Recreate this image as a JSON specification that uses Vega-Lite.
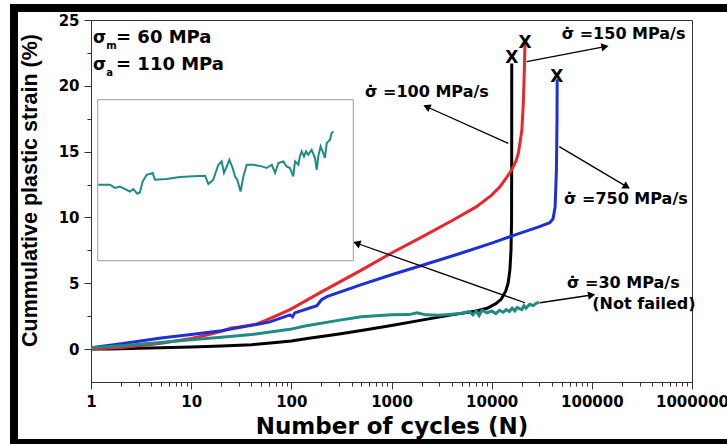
{
  "$schema": "https://vega.github.io/schema/vega-lite/v6.json",
  "width": 601,
  "height": 362,
  "autosize": "none",
  "padding": {"left": 91, "top": 20, "right": 35, "bottom": 62},
  "background": "white",
  "config": {"view": {"stroke": "#333", "strokeWidth": 1}, "font": "DejaVu Sans"},
  "datasets": {
    "curves": [
      {"series": "100 MPa/s", "N": 1, "strain": 0},
      {"series": "100 MPa/s", "N": 1.5, "strain": 0.01},
      {"series": "100 MPa/s", "N": 2, "strain": 0.03},
      {"series": "100 MPa/s", "N": 3, "strain": 0.06},
      {"series": "100 MPa/s", "N": 5, "strain": 0.1},
      {"series": "100 MPa/s", "N": 10, "strain": 0.16},
      {"series": "100 MPa/s", "N": 20, "strain": 0.24},
      {"series": "100 MPa/s", "N": 40, "strain": 0.33},
      {"series": "100 MPa/s", "N": 70, "strain": 0.5},
      {"series": "100 MPa/s", "N": 100, "strain": 0.62},
      {"series": "100 MPa/s", "N": 150, "strain": 0.82},
      {"series": "100 MPa/s", "N": 200, "strain": 0.95},
      {"series": "100 MPa/s", "N": 300, "strain": 1.15},
      {"series": "100 MPa/s", "N": 500, "strain": 1.42},
      {"series": "100 MPa/s", "N": 1000, "strain": 1.8},
      {"series": "100 MPa/s", "N": 2000, "strain": 2.2},
      {"series": "100 MPa/s", "N": 4000, "strain": 2.6},
      {"series": "100 MPa/s", "N": 7000, "strain": 2.9},
      {"series": "100 MPa/s", "N": 9000, "strain": 3.1},
      {"series": "100 MPa/s", "N": 11000, "strain": 3.45},
      {"series": "100 MPa/s", "N": 12500, "strain": 3.8},
      {"series": "100 MPa/s", "N": 13800, "strain": 4.4},
      {"series": "100 MPa/s", "N": 14600, "strain": 5.0},
      {"series": "100 MPa/s", "N": 15200, "strain": 6.0},
      {"series": "100 MPa/s", "N": 15600, "strain": 7.5},
      {"series": "100 MPa/s", "N": 15800, "strain": 9.8},
      {"series": "100 MPa/s", "N": 15850, "strain": 15},
      {"series": "100 MPa/s", "N": 15870, "strain": 21.7},
      {"series": "150 MPa/s", "N": 1, "strain": 0},
      {"series": "150 MPa/s", "N": 2, "strain": 0.12},
      {"series": "150 MPa/s", "N": 3, "strain": 0.25},
      {"series": "150 MPa/s", "N": 5, "strain": 0.45},
      {"series": "150 MPa/s", "N": 10, "strain": 0.8},
      {"series": "150 MPa/s", "N": 15, "strain": 1.1},
      {"series": "150 MPa/s", "N": 20, "strain": 1.35},
      {"series": "150 MPa/s", "N": 25, "strain": 1.6},
      {"series": "150 MPa/s", "N": 30, "strain": 1.68},
      {"series": "150 MPa/s", "N": 45, "strain": 1.9},
      {"series": "150 MPa/s", "N": 60, "strain": 2.3},
      {"series": "150 MPa/s", "N": 97, "strain": 3.0},
      {"series": "150 MPa/s", "N": 200, "strain": 4.35},
      {"series": "150 MPa/s", "N": 500, "strain": 6.0},
      {"series": "150 MPa/s", "N": 1000, "strain": 7.3},
      {"series": "150 MPa/s", "N": 2000, "strain": 8.5},
      {"series": "150 MPa/s", "N": 4000, "strain": 9.75},
      {"series": "150 MPa/s", "N": 7000, "strain": 10.8},
      {"series": "150 MPa/s", "N": 10000, "strain": 11.7},
      {"series": "150 MPa/s", "N": 12000, "strain": 12.3},
      {"series": "150 MPa/s", "N": 14000, "strain": 13.0},
      {"series": "150 MPa/s", "N": 15800, "strain": 13.6},
      {"series": "150 MPa/s", "N": 17500, "strain": 14.3},
      {"series": "150 MPa/s", "N": 18500, "strain": 14.9},
      {"series": "150 MPa/s", "N": 20000, "strain": 16.6},
      {"series": "150 MPa/s", "N": 20700, "strain": 18.7},
      {"series": "150 MPa/s", "N": 21200, "strain": 21.2},
      {"series": "150 MPa/s", "N": 21500, "strain": 23.2},
      {"series": "750 MPa/s", "N": 1, "strain": 0.1},
      {"series": "750 MPa/s", "N": 2, "strain": 0.4},
      {"series": "750 MPa/s", "N": 3, "strain": 0.6},
      {"series": "750 MPa/s", "N": 5, "strain": 0.85},
      {"series": "750 MPa/s", "N": 10, "strain": 1.1},
      {"series": "750 MPa/s", "N": 20, "strain": 1.4},
      {"series": "750 MPa/s", "N": 40, "strain": 1.8},
      {"series": "750 MPa/s", "N": 60, "strain": 2.05},
      {"series": "750 MPa/s", "N": 97, "strain": 2.6},
      {"series": "750 MPa/s", "N": 103, "strain": 2.45},
      {"series": "750 MPa/s", "N": 108, "strain": 2.75},
      {"series": "750 MPa/s", "N": 150, "strain": 3.1},
      {"series": "750 MPa/s", "N": 180, "strain": 3.3},
      {"series": "750 MPa/s", "N": 200, "strain": 3.75},
      {"series": "750 MPa/s", "N": 230, "strain": 4.0},
      {"series": "750 MPa/s", "N": 500, "strain": 4.9},
      {"series": "750 MPa/s", "N": 1000, "strain": 5.65},
      {"series": "750 MPa/s", "N": 2000, "strain": 6.35},
      {"series": "750 MPa/s", "N": 5000, "strain": 7.3},
      {"series": "750 MPa/s", "N": 10000, "strain": 8.05},
      {"series": "750 MPa/s", "N": 16000, "strain": 8.6},
      {"series": "750 MPa/s", "N": 30000, "strain": 9.3},
      {"series": "750 MPa/s", "N": 38000, "strain": 9.6},
      {"series": "750 MPa/s", "N": 41000, "strain": 9.9},
      {"series": "750 MPa/s", "N": 43000, "strain": 10.8},
      {"series": "750 MPa/s", "N": 44300, "strain": 13.6},
      {"series": "750 MPa/s", "N": 44900, "strain": 17.4},
      {"series": "750 MPa/s", "N": 45100, "strain": 20.5},
      {"series": "30 MPa/s", "N": 1, "strain": 0.1},
      {"series": "30 MPa/s", "N": 2, "strain": 0.25},
      {"series": "30 MPa/s", "N": 5, "strain": 0.5},
      {"series": "30 MPa/s", "N": 8.7, "strain": 0.68},
      {"series": "30 MPa/s", "N": 20, "strain": 0.9},
      {"series": "30 MPa/s", "N": 40, "strain": 1.1},
      {"series": "30 MPa/s", "N": 97, "strain": 1.5},
      {"series": "30 MPa/s", "N": 137, "strain": 1.75},
      {"series": "30 MPa/s", "N": 305, "strain": 2.2},
      {"series": "30 MPa/s", "N": 500, "strain": 2.45},
      {"series": "30 MPa/s", "N": 1000, "strain": 2.6},
      {"series": "30 MPa/s", "N": 1500, "strain": 2.62},
      {"series": "30 MPa/s", "N": 1800, "strain": 2.75},
      {"series": "30 MPa/s", "N": 2200, "strain": 2.6},
      {"series": "30 MPa/s", "N": 3000, "strain": 2.58},
      {"series": "30 MPa/s", "N": 4000, "strain": 2.65},
      {"series": "30 MPa/s", "N": 5000, "strain": 2.72},
      {"series": "30 MPa/s", "N": 6000, "strain": 2.85},
      {"series": "30 MPa/s", "N": 6500, "strain": 2.6},
      {"series": "30 MPa/s", "N": 7000, "strain": 2.9},
      {"series": "30 MPa/s", "N": 7500, "strain": 2.55},
      {"series": "30 MPa/s", "N": 8000, "strain": 2.95},
      {"series": "30 MPa/s", "N": 9000, "strain": 2.75},
      {"series": "30 MPa/s", "N": 10000, "strain": 2.9},
      {"series": "30 MPa/s", "N": 11000, "strain": 2.7},
      {"series": "30 MPa/s", "N": 12000, "strain": 2.95},
      {"series": "30 MPa/s", "N": 13000, "strain": 2.8},
      {"series": "30 MPa/s", "N": 14000, "strain": 3.0},
      {"series": "30 MPa/s", "N": 15000, "strain": 2.85},
      {"series": "30 MPa/s", "N": 16000, "strain": 3.1},
      {"series": "30 MPa/s", "N": 17000, "strain": 2.9},
      {"series": "30 MPa/s", "N": 18000, "strain": 3.15},
      {"series": "30 MPa/s", "N": 20000, "strain": 3.0},
      {"series": "30 MPa/s", "N": 21000, "strain": 3.3},
      {"series": "30 MPa/s", "N": 22000, "strain": 3.1},
      {"series": "30 MPa/s", "N": 24000, "strain": 3.4},
      {"series": "30 MPa/s", "N": 26000, "strain": 3.3},
      {"series": "30 MPa/s", "N": 28000, "strain": 3.5},
      {"series": "30 MPa/s", "N": 30000, "strain": 3.55}
    ],
    "rates": [
      {"N": 50000, "strain": 23.53, "label": "\u03c3\u0307 =150 MPa/s"},
      {"N": 544, "strain": 19.15, "label": "\u03c3\u0307 =100 MPa/s"},
      {"N": 52700, "strain": 11.02, "label": "\u03c3\u0307 =750 MPa/s"},
      {"N": 56500, "strain": 4.66, "label": "\u03c3\u0307 =30 MPa/s"},
      {"N": 101100, "strain": 3.05, "label": "(Not failed)"}
    ],
    "params": [
      {"N": 1.777, "strain": 23.28, "label": "= 60 MPa"},
      {"N": 1.777, "strain": 21.2, "label": "= 110 MPa"}
    ],
    "sigmas": [
      {"N": 1.047, "strain": 23.28, "label": "\u03c3"},
      {"N": 1.047, "strain": 21.2, "label": "\u03c3"}
    ],
    "subs": [
      {"N": 1.42, "strain": 22.8, "label": "m"},
      {"N": 1.42, "strain": 20.75, "label": "a"}
    ],
    "fails": [
      {"N": 15850, "strain": 22.09, "label": "X"},
      {"N": 21520, "strain": 23.23, "label": "X"},
      {"N": 44570, "strain": 20.69, "label": "X"}
    ],
    "arrows": [
      {"N": 22380, "strain": 21.83, "N2": 135300, "strain2": 22.97, "dir": -10.8},
      {"N": 14650, "strain": 15.63, "N2": 2245, "strain2": 18.41, "dir": -155.8},
      {"N": 47300, "strain": 15.38, "N2": 222800, "strain2": 12.34, "dir": 30.7},
      {"N": 30350, "strain": 3.52, "N2": 99600, "strain2": 4.11, "dir": -8.5},
      {"N": 21520, "strain": 3.52, "N2": 449.5, "strain2": 8.04, "dir": -160.6}
    ],
    "frame": [
      {"N": 0.1703, "N2": 3010000, "strain": 25.91, "strain2": -7.13}
    ],
    "insetbox": [
      {"ix": 0, "ix2": 100, "iy": 0, "iy2": 100}
    ],
    "inset": [
      {"ix": 0.2, "iy": 47.2}, {"ix": 4.8, "iy": 47.2}, {"ix": 6.8, "iy": 45.2}, {"ix": 8.7, "iy": 46.1},
      {"ix": 10.7, "iy": 44.5}, {"ix": 12.6, "iy": 43.0}, {"ix": 13.9, "iy": 44.5}, {"ix": 15.5, "iy": 41.6},
      {"ix": 16.5, "iy": 42.4}, {"ix": 17.6, "iy": 49.3}, {"ix": 19.2, "iy": 53.4}, {"ix": 21.5, "iy": 54.5},
      {"ix": 22.4, "iy": 50.3}, {"ix": 27.0, "iy": 50.7}, {"ix": 32.2, "iy": 52.0}, {"ix": 37.4, "iy": 52.4},
      {"ix": 42.0, "iy": 52.8}, {"ix": 43.3, "iy": 47.6}, {"ix": 45.2, "iy": 50.3}, {"ix": 47.2, "iy": 59.6},
      {"ix": 48.5, "iy": 61.7}, {"ix": 49.4, "iy": 54.5}, {"ix": 50.5, "iy": 58.6}, {"ix": 51.5, "iy": 62.7},
      {"ix": 52.8, "iy": 57.6}, {"ix": 53.7, "iy": 52.4}, {"ix": 54.6, "iy": 50.3}, {"ix": 55.9, "iy": 43.0},
      {"ix": 57.0, "iy": 52.4}, {"ix": 58.3, "iy": 59.6}, {"ix": 60.9, "iy": 59.6}, {"ix": 64.2, "iy": 58.6},
      {"ix": 66.1, "iy": 57.6}, {"ix": 68.1, "iy": 59.6}, {"ix": 69.4, "iy": 54.5}, {"ix": 70.7, "iy": 60.7},
      {"ix": 72.6, "iy": 61.7}, {"ix": 73.9, "iy": 58.6}, {"ix": 75.2, "iy": 57.6}, {"ix": 76.5, "iy": 52.4},
      {"ix": 77.2, "iy": 61.7}, {"ix": 78.5, "iy": 59.6}, {"ix": 79.1, "iy": 64.8}, {"ix": 79.8, "iy": 67.9},
      {"ix": 80.7, "iy": 64.8}, {"ix": 81.5, "iy": 67.9}, {"ix": 82.4, "iy": 65.8}, {"ix": 83.7, "iy": 68.9},
      {"ix": 85.0, "iy": 63.8}, {"ix": 85.7, "iy": 56.5}, {"ix": 86.3, "iy": 64.8}, {"ix": 87.2, "iy": 71.0},
      {"ix": 88.0, "iy": 67.9}, {"ix": 88.9, "iy": 63.8}, {"ix": 89.6, "iy": 73.1}, {"ix": 90.9, "iy": 75.2},
      {"ix": 91.5, "iy": 79.3}, {"ix": 92.2, "iy": 80.3}
    ]
  },
  "layer": [
    {
      "encoding": {
        "x": {
          "field": "N", "type": "quantitative",
          "scale": {"type": "log", "domain": [1, 1000000], "nice": false},
          "axis": {
            "title": "Number of cycles (N)",
            "values": [1,2,3,4,5,6,7,8,9,10,20,30,40,50,60,70,80,90,100,200,300,400,500,600,700,800,900,1000,2000,3000,4000,5000,6000,7000,8000,9000,10000,20000,30000,40000,50000,60000,70000,80000,90000,100000,200000,300000,400000,500000,600000,700000,800000,900000,1000000],
            "labelExpr": "indexof([1,10,100,1000,10000,100000,1000000], datum.value) >= 0 ? format(datum.value, 'd') : ''",
            "tickSize": {"condition": {"test": "indexof([1,10,100,1000,10000,100000,1000000], datum.value) >= 0", "value": 7}, "value": 4},
            "grid": false, "labelOverlap": false, "labelFlush": false,
            "labelFont": "DejaVu Sans", "labelFontWeight": "bold", "labelFontSize": 15, "labelColor": "black", "labelPadding": 5,
            "titleFont": "DejaVu Sans", "titleFontWeight": "bold", "titleFontSize": 23, "titleColor": "black", "titlePadding": 6,
            "domainColor": "#333", "tickColor": "#333"
          }
        },
        "y": {
          "field": "strain", "type": "quantitative",
          "scale": {"domain": [-2.5, 25], "nice": false, "zero": false},
          "axis": {
            "title": "Cummulative plastic strain (%)",
            "values": [0, 2.5, 5, 7.5, 10, 12.5, 15, 17.5, 20, 22.5, 25],
            "labelExpr": "datum.value % 5 == 0 ? datum.label : ''",
            "tickSize": {"condition": {"test": "datum.value % 5 == 0", "value": 7}, "value": 4},
            "grid": false, "labelOverlap": false, "labelFlush": false,
            "labelFont": "DejaVu Sans", "labelFontWeight": "bold", "labelFontSize": 15, "labelColor": "black", "labelPadding": 5,
            "titleFont": "Liberation Sans", "titleFontWeight": "bold", "titleFontSize": 21.5, "titleColor": "black", "titlePadding": 17, "titleY": 170,
            "domainColor": "#333", "tickColor": "#333"
          }
        }
      },
      "layer": [
        {
          "data": {"name": "frame"},
          "mark": {"type": "rect", "fillOpacity": 0, "fill": "white", "stroke": "black", "strokeWidth": 8, "clip": false},
          "encoding": {"x2": {"field": "N2"}, "y2": {"field": "strain2"}}
        },
        {
          "data": {"name": "curves"},
          "mark": {"type": "line", "strokeWidth": 3, "clip": true},
          "encoding": {
            "color": {"field": "series", "type": "nominal", "legend": null,
              "scale": {"domain": ["30 MPa/s", "750 MPa/s", "150 MPa/s", "100 MPa/s"], "range": ["#1e8c84", "#1f2fd6", "#e8262c", "#000000"]}}
          }
        },
        {
          "data": {"name": "arrows"},
          "mark": {"type": "rule", "color": "black", "strokeWidth": 1.3},
          "encoding": {"x2": {"field": "N2"}, "y2": {"field": "strain2"}}
        },
        {
          "data": {"name": "arrows"},
          "mark": {"type": "point", "shape": "triangle-right", "filled": true, "color": "black", "size": 70, "opacity": 1},
          "encoding": {
            "x": {"field": "N2", "type": "quantitative"},
            "y": {"field": "strain2", "type": "quantitative"},
            "angle": {"field": "dir", "type": "quantitative", "scale": null}
          }
        },
        {
          "data": {"name": "fails"},
          "mark": {"type": "text", "font": "DejaVu Sans", "fontWeight": "bold", "fontSize": 17, "align": "center", "baseline": "middle", "color": "black"},
          "encoding": {"text": {"field": "label"}}
        },
        {
          "data": {"name": "rates"},
          "mark": {"type": "text", "font": "DejaVu Sans", "fontWeight": "bold", "fontSize": 16, "align": "left", "baseline": "alphabetic", "color": "black"},
          "encoding": {"text": {"field": "label"}}
        },
        {
          "data": {"name": "params"},
          "mark": {"type": "text", "font": "DejaVu Sans", "fontWeight": "bold", "fontSize": 18, "align": "left", "baseline": "alphabetic", "color": "black"},
          "encoding": {"text": {"field": "label"}}
        },
        {
          "data": {"name": "sigmas"},
          "mark": {"type": "text", "font": "DejaVu Sans", "fontWeight": "bold", "fontSize": 17, "align": "left", "baseline": "alphabetic", "color": "black"},
          "encoding": {"text": {"field": "label"}}
        },
        {
          "data": {"name": "subs"},
          "mark": {"type": "text", "font": "DejaVu Sans", "fontWeight": "bold", "fontSize": 10, "align": "left", "baseline": "alphabetic", "color": "black"},
          "encoding": {"text": {"field": "label"}}
        }
      ]
    },
    {
      "encoding": {
        "x": {"field": "ix", "type": "quantitative", "scale": {"domain": [-2.62, 232.5], "nice": false, "zero": false}, "axis": null},
        "y": {"field": "iy", "type": "quantitative", "scale": {"domain": [-75.3, 149.5], "nice": false, "zero": false}, "axis": null}
      },
      "layer": [
        {
          "data": {"name": "insetbox"},
          "mark": {"type": "rect", "fill": "white", "fillOpacity": 0, "stroke": "#9a9a9a", "strokeWidth": 1},
          "encoding": {"x2": {"field": "ix2"}, "y2": {"field": "iy2"}}
        },
        {
          "data": {"name": "inset"},
          "mark": {"type": "line", "color": "#1e8c84", "strokeWidth": 2}
        }
      ]
    }
  ],
  "resolve": {"scale": {"x": "independent", "y": "independent"}}
}
